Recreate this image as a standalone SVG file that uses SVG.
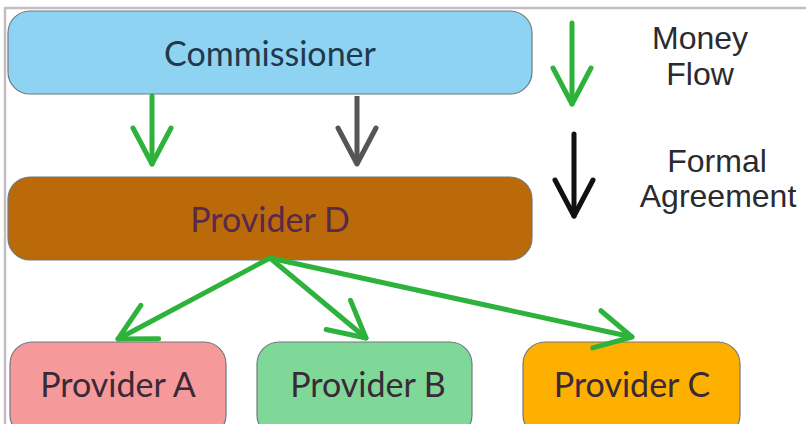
<svg xmlns="http://www.w3.org/2000/svg" width="806" height="424" viewBox="0 0 806 424">
<style>
.box{stroke:#6f7880;stroke-width:1.2}
.lbl{font-family:Lato,"Open Sans","Liberation Sans",sans-serif;font-size:34px;text-anchor:middle}
.leg{font-family:"Liberation Sans",Arial,sans-serif;font-size:32px;text-anchor:middle;fill:#2a2a30}
.g{stroke:#2db33c;stroke-width:5;fill:none;stroke-linecap:round}
</style>
<defs>
<marker id="hg" markerUnits="userSpaceOnUse" markerWidth="60" markerHeight="60" refX="44" refY="30" orient="auto" viewBox="0 0 60 60">
<path d="M8 11 L44 30 L8 49" fill="none" stroke="#2db33c" stroke-width="5" stroke-linecap="round" stroke-linejoin="round"/>
</marker>
<marker id="hk" markerUnits="userSpaceOnUse" markerWidth="60" markerHeight="60" refX="44" refY="30" orient="auto" viewBox="0 0 60 60">
<path d="M8 11 L44 30 L8 49" fill="none" stroke="#555" stroke-width="5" stroke-linecap="round" stroke-linejoin="round"/>
</marker>
<marker id="hb" markerUnits="userSpaceOnUse" markerWidth="60" markerHeight="60" refX="44" refY="30" orient="auto" viewBox="0 0 60 60">
<path d="M8 11 L44 30 L8 49" fill="none" stroke="#111" stroke-width="5" stroke-linecap="round" stroke-linejoin="round"/>
</marker>
</defs>
<rect width="806" height="424" fill="#ffffff"/>
<path d="M5 424 V8 H806" fill="none" stroke="#c4bcc4" stroke-width="2.5"/>

<g id="commissioner">
<rect class="box" x="8" y="11" width="524" height="83" rx="22" fill="#8ed4f2"/>
<text class="lbl" x="270" y="66" fill="#22384c">Commissioner</text>
</g>
<g id="provider-d">
<rect class="box" x="8" y="177" width="524" height="83" rx="22" fill="#bb6a09"/>
<text class="lbl" x="270" y="232" fill="#5a2848">Provider D</text>
</g>
<g id="provider-a">
<rect class="box" x="10" y="342" width="216" height="95" rx="22" fill="#f5999b"/>
<text class="lbl" x="118" y="397" fill="#3a2a38">Provider A</text>
</g>
<g id="provider-b">
<rect class="box" x="257" y="342" width="215" height="95" rx="22" fill="#80d898"/>
<text class="lbl" x="368" y="397" fill="#3a2a38">Provider B</text>
</g>
<g id="provider-c">
<rect class="box" x="523" y="342" width="217" height="95" rx="22" fill="#fdb000"/>
<text class="lbl" x="632" y="397" fill="#3a2a38">Provider C</text>
</g>

<g id="connectors">
<line class="g" x1="152" y1="96" x2="152" y2="164" marker-end="url(#hg)"/>
<line x1="357" y1="96" x2="357" y2="164" stroke="#555" stroke-width="5" marker-end="url(#hk)"/>
<line class="g" x1="270" y1="258" x2="118" y2="339" marker-end="url(#hg)"/>
<line class="g" x1="270" y1="258" x2="366" y2="338" marker-end="url(#hg)"/>
<line class="g" x1="270" y1="258" x2="632" y2="337" marker-end="url(#hg)"/>
</g>

<g id="legend">
<line class="g" x1="572" y1="23" x2="572" y2="104" marker-end="url(#hg)"/>
<line x1="574" y1="134" x2="574" y2="216" stroke="#111" stroke-width="5" stroke-linecap="round" marker-end="url(#hb)"/>
<text class="leg" x="700" y="49">Money</text>
<text class="leg" x="700" y="85">Flow</text>
<text class="leg" x="717" y="172">Formal</text>
<text class="leg" x="718" y="207">Agreement</text>
</g>
</svg>
